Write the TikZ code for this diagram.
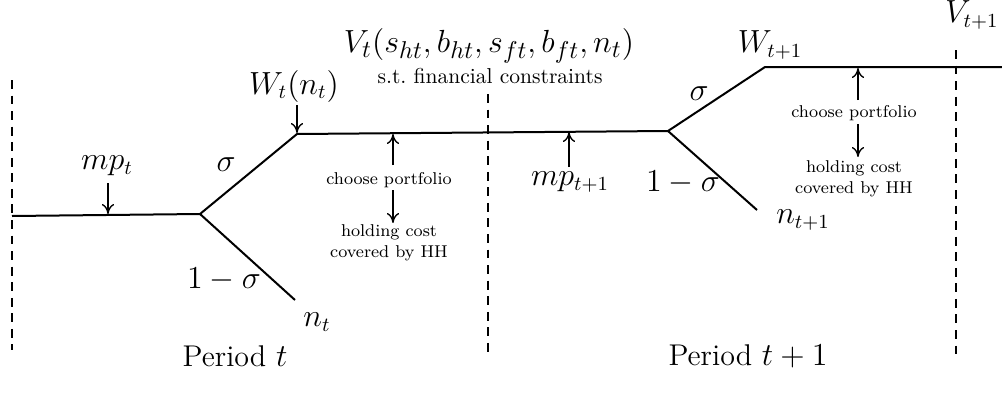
\documentclass[tikz,border=0pt]{standalone}
\usetikzlibrary{arrows.meta}
\begin{document}
\begin{tikzpicture}[x=0.45pt,y=-0.45pt,
  path/.style={line width=0.9pt},
  divider/.style={line width=0.6pt,dash pattern=on 4pt off 3pt},
  ptr/.style={->,line width=0.6pt,>={To[length=4.5pt,width=5.5pt]}},
  mlab/.style={inner sep=0pt,font=\fontsize{13.5}{16}\selectfont},
  small/.style={inner sep=0pt,font=\fontsize{7.7}{9.6}\selectfont,align=center},
  lbl/.style={inner sep=0pt,font=\fontsize{13.5}{16}\selectfont}]
\useasboundingbox (0,0) rectangle (1002,398);
% dividers
\coordinate (d1a) at (12,80); \coordinate (d1b) at (12,350);
\coordinate (d2a) at (488,94); \coordinate (d2b) at (488,355);
\coordinate (d3a) at (956,50); \coordinate (d3b) at (956,360);
\draw[divider] (d1a) -- (d1b);
\draw[divider] (d2a) -- (d2b);
\draw[divider] (d3a) -- (d3b);
% main path
\coordinate (s) at (12,216);
\coordinate (b1) at (200,214);
\coordinate (u1) at (297,134);
\coordinate (l1) at (295,300);
\coordinate (b2) at (668,131);
\coordinate (u2) at (765,67);
\coordinate (l2) at (757,210);
\coordinate (e) at (1002,67);
\draw[path] (s) -- (b1) -- (u1) -- (b2) -- (u2) -- (e);
\draw[path] (b1) -- (l1);
\draw[path] (b2) -- (l2);
% labels
\node[mlab] (mpt) at (107,166) {$mp_t$};
\coordinate (mptT) at (108,214);
\draw[ptr] (108,183) -- (mptT);
\node[mlab] (Wt) at (294,86) {$W_t(n_t)$};
\coordinate (WtT) at (297,133);
\draw[ptr] (297,105) -- (WtT);
\node[mlab] (sig1) at (226,165) {$\sigma$};
\node[mlab] (oms1) at (224,280) {$1-\sigma$};
\node[mlab] (nt) at (317,322) {$n_t$};
% choose portfolio 1
\node[small] (cp1) at (389,180) {choose portfolio};
\coordinate (cp1T) at (393,134);
\draw[ptr] (393,165) -- (cp1T);
\node[small] (hc1) at (389,243) {holding cost\\covered by HH};
\draw[ptr] (393,190) -- (393,223);
% V_t
\node[inner sep=0pt,font=\fontsize{15}{18}\selectfont] (Vt) at (489,46) {$V_t(s_{ht},b_{ht},s_{ft},b_{ft},n_t)$};
\node[inner sep=0pt,font=\fontsize{9.7}{12}\selectfont] (st) at (490,76) {s.t.\ financial constraints};
% mp t+1
\node[mlab] (mpt1) at (570,182) {$mp_{t+1}$};
\coordinate (mpt1T) at (569,132);
\draw[ptr] (569,167) -- (mpt1T);
\node[mlab] (sig2) at (699,94) {$\sigma$};
\node[mlab] (oms2) at (683,183) {$1-\sigma$};
\node[mlab] (nt1) at (803,220) {$n_{t+1}$};
\node[mlab] (Wt1) at (770,45) {$W_{t+1}$};
\node[mlab] (Vt1) at (972,15) {$V_{t+1}$};
% choose portfolio 2
\node[small] (cp2) at (854,113) {choose portfolio};
\coordinate (cp2T) at (858,68);
\draw[ptr] (858,100) -- (cp2T);
\node[small] (hc2) at (854,179) {holding cost\\covered by HH};
\draw[ptr] (858,124) -- (858,157);
% periods
\node[lbl] (p1) at (235,356) {Period $t$};
\node[lbl] (p2) at (748,356) {Period $t+1$};
\end{tikzpicture}
\end{document}
